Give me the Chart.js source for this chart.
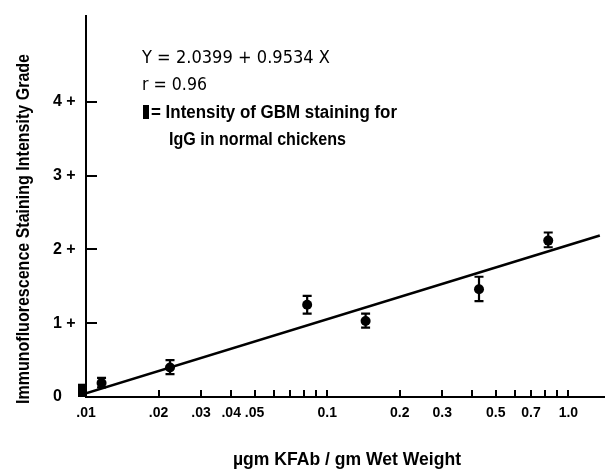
<!DOCTYPE html>
<html><head><meta charset="utf-8">
<script src="https://cdn.jsdelivr.net/npm/chart.js@4/dist/chart.umd.min.js"></script>
<style>html,body{margin:0;padding:0;background:#fff;}canvas{display:block;}</style>
</head><body>
<canvas id="c" width="609" height="472"></canvas>
<script>
// ---- data ----
const doseX   = [0.0116, 0.0223, 0.0826, 0.1443, 0.426, 0.825];   // µgm KFAb / gm wet weight
const gradeY  = [0.19, 0.40, 1.25, 1.03, 1.46, 2.12];              // staining intensity grade
const errLow  = [0.13, 0.31, 1.13, 0.94, 1.30, 2.03];
const errHigh = [0.26, 0.50, 1.37, 1.13, 1.63, 2.23];
const fitX    = [0.01, 1.35];                                      // regression line ends
const fitY    = [0.05, 2.19];
const normalX     = [0.01];                                        // normal chickens bar
const normalRange = [0, 0.18];
const xTickValues = [0.01,0.02,0.03,0.04,0.05,0.06,0.07,0.08,0.09,0.1,0.2,0.3,0.4,0.5,0.6,0.7,0.8,0.9,1.0];
const xTickLabels = ['.01','.02','.03','.04','.05','','','','','0.1','0.2','0.3','','0.5','','0.7','','','1.0'];
const yTickValues = [0,1,2,3,4];
const yTickLabels = ['0','1 +','2 +','3 +','4 +'];
const xTitle = 'µgm KFAb / gm Wet Weight';
const yTitle = 'Immunofluorescence Staining Intensity Grade';
const noteLines = ['Y = 2.0399 + 0.9534 X', 'r = 0.96', '= Intensity of GBM staining for', 'IgG in normal chickens'];

const deco = {
  id: 'deco',
  afterDatasetsDraw(chart) {
    const {ctx, scales: {x, y}, chartArea: a} = chart;
    ctx.save();
    ctx.strokeStyle = '#000'; ctx.fillStyle = '#000';
    // inward y ticks
    ctx.lineWidth = 2;
    yTickValues.forEach(v => {
      if (v === 0) return;
      const py = Math.round(y.getPixelForValue(v));
      ctx.beginPath(); ctx.moveTo(a.left, py); ctx.lineTo(a.left + 11, py); ctx.stroke();
    });
    // inward x ticks
    xTickValues.forEach((v, i) => {
      if (i === 0) return;
      const px = Math.round(x.getPixelForValue(v));
      ctx.beginPath(); ctx.moveTo(px, a.bottom); ctx.lineTo(px, a.bottom - 7); ctx.stroke();
    });
    // error bars
    ctx.lineWidth = 2.2;
    doseX.forEach((v, i) => {
      const px = x.getPixelForValue(v);
      const lo = y.getPixelForValue(errLow[i]);
      const hi = y.getPixelForValue(errHigh[i]);
      ctx.beginPath();
      ctx.moveTo(px, lo); ctx.lineTo(px, hi);
      ctx.moveTo(px - 4.5, lo); ctx.lineTo(px + 4.5, lo);
      ctx.moveTo(px - 4.5, hi); ctx.lineTo(px + 4.5, hi);
      ctx.stroke();
    });
    // normal chickens bar
    normalX.forEach(v => {
      const px = x.getPixelForValue(v);
      const top = y.getPixelForValue(normalRange[1]);
      const bot = y.getPixelForValue(normalRange[0]);
      ctx.fillRect(px - 8, top, 9, bot - top);
    });
    // annotation block
    ctx.textAlign = 'left'; ctx.textBaseline = 'alphabetic';
    ctx.font = '18px "DejaVu Sans"';
    ctx.fillText(noteLines[0], 142, 63, 188);
    ctx.fillText(noteLines[1], 142, 90, 65);
    ctx.fillRect(143, 105, 6, 14);
    ctx.font = 'bold 18px "Liberation Sans"';
    ctx.fillText(noteLines[2], 151, 118, 246);
    ctx.fillText(noteLines[3], 169, 145, 177);
    // axis titles
    ctx.textAlign = 'center';
    ctx.font = 'bold 18px "Liberation Sans"';
    ctx.fillText(xTitle, 347, 465, 228);
    ctx.save();
    ctx.translate(29, 229);
    ctx.rotate(-Math.PI / 2);
    ctx.font = 'bold 18px "Liberation Sans"';
    ctx.fillText(yTitle, 0, 0, 350);
    ctx.restore();
    ctx.restore();
  }
};

new Chart(document.getElementById('c').getContext('2d'), {
  type: 'scatter',
  data: {
    datasets: [
      { type: 'line', data: fitX.map((v, i) => ({x: v, y: fitY[i]})), borderColor: '#000', borderWidth: 2.6,
        pointRadius: 0, fill: false, tension: 0, order: 2 },
      { type: 'scatter', data: doseX.map((v, i) => ({x: v, y: gradeY[i]})), backgroundColor: '#000',
        borderColor: '#000', pointRadius: 5, borderWidth: 0, order: 1 }
    ]
  },
  options: {
    responsive: false, animation: false, devicePixelRatio: 1,
    layout: { padding: { left: 53, right: 0, top: 13, bottom: 0 } },
    plugins: { legend: { display: false }, tooltip: { enabled: false } },
    scales: {
      x: {
        type: 'logarithmic', min: 0.01, max: 1.405, position: 'bottom',
        afterBuildTicks: s => { s.ticks = xTickValues.map(v => ({value: v})); },
        afterFit: s => { s.height = 75; },
        ticks: { autoSkip: false, maxRotation: 0, minRotation: 0, padding: 8, color: '#000',
          font: { family: 'Liberation Sans', weight: 'bold', size: 14 },
          callback: (v, i) => xTickLabels[i] },
        grid: { display: false, drawTicks: false },
        border: { display: true, color: '#000', width: 2 }
      },
      y: {
        min: 0, max: 5.17,
        afterBuildTicks: s => { s.ticks = yTickValues.map(v => ({value: v})); },
        afterFit: s => { s.width = 33; },
        ticks: { crossAlign: 'far', padding: 6, color: '#000',
          font: { family: 'Liberation Sans', weight: 'bold', size: 16 },
          callback: (v, i) => yTickLabels[i] },
        grid: { display: false, drawTicks: false },
        border: { display: true, color: '#000', width: 2 }
      }
    }
  },
  plugins: [deco]
});
</script>
</body></html>
